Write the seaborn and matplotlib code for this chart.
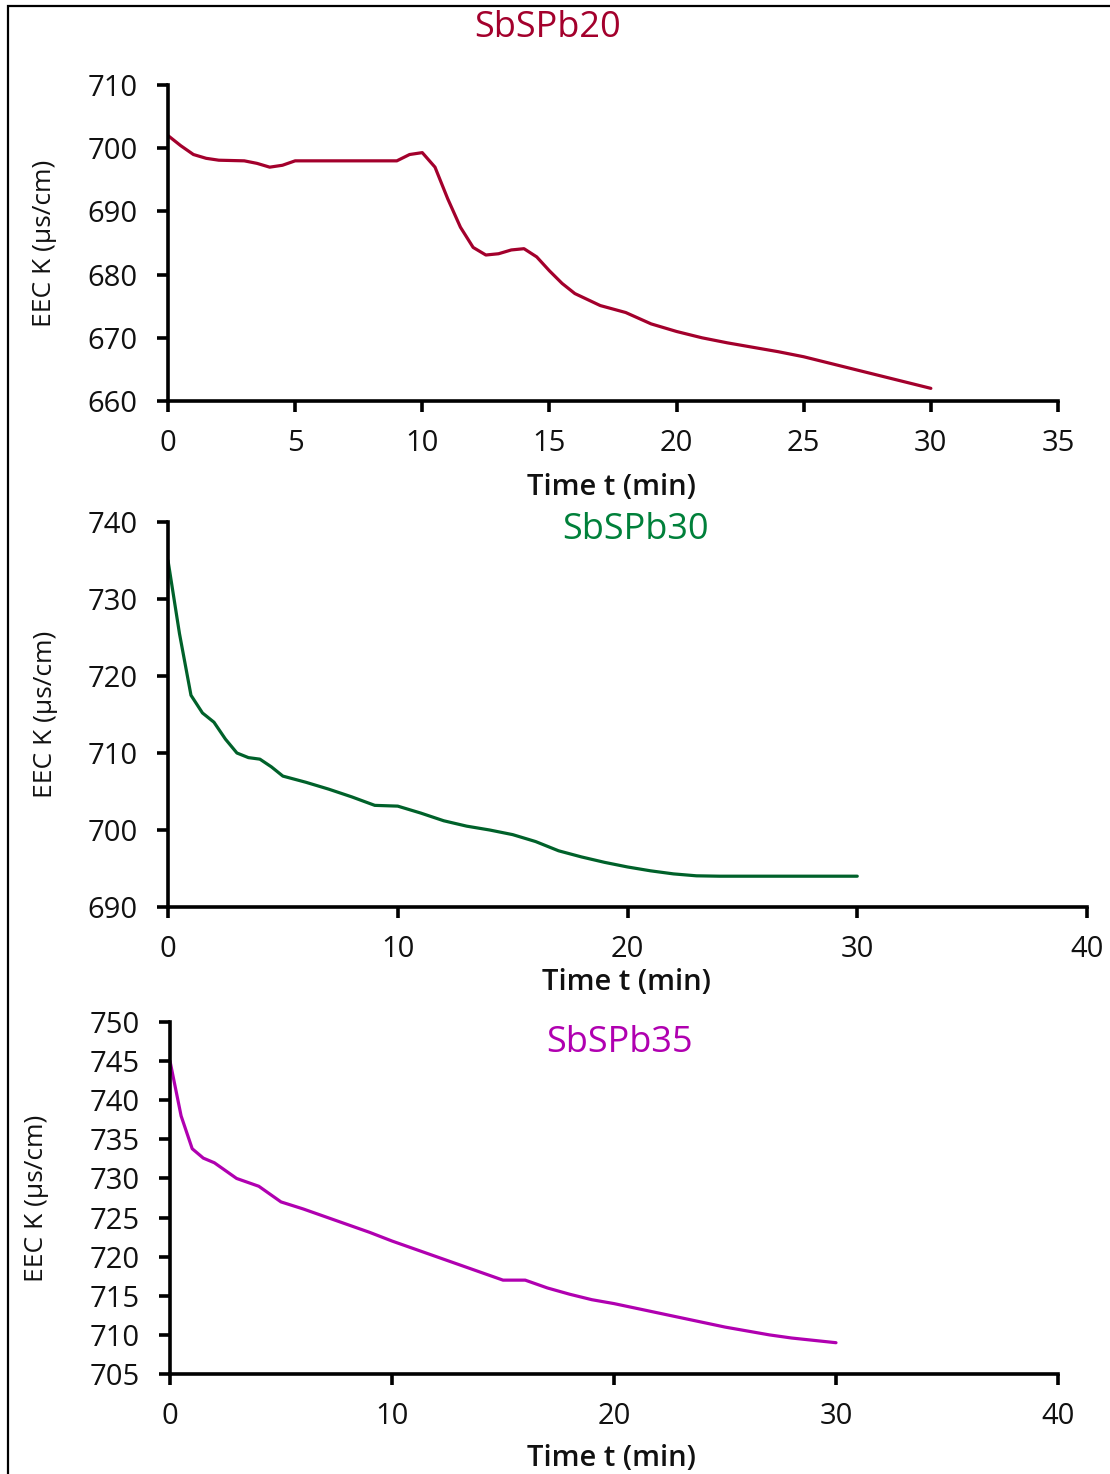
import numpy as np
import pandas as pd
import matplotlib
matplotlib.use("Agg")
import matplotlib.pyplot as plt
from matplotlib.patches import Rectangle
import seaborn as sns

# ---------------- data ----------------
t20 = [0, 0.5, 1, 1.5, 2, 3, 3.5, 4, 4.5, 5, 6, 7, 8, 9, 9.5, 10, 10.5, 11, 11.5, 12, 12.5,
       13, 13.5, 14, 14.5, 15, 15.5, 16, 17, 18, 19, 20, 21, 22, 23, 24, 25, 26, 27, 28, 29, 30]
k20 = [702, 700.4, 699, 698.4, 698.1, 698, 697.6, 697, 697.3, 698, 698, 698, 698, 698, 699,
       699.3, 697, 692, 687.5, 684.3, 683.1, 683.3, 683.9, 684.1, 682.8, 680.6, 678.6, 677,
       675.1, 674, 672.2, 671, 670, 669.2, 668.5, 667.8, 667, 666, 665, 664, 663, 662]

t30 = [0, 0.5, 1, 1.5, 2, 2.5, 3, 3.5, 4, 4.5, 5, 6, 7, 8, 9, 10, 11, 12, 13, 14, 15, 16,
       17, 18, 19, 20, 21, 22, 23, 24, 25, 26, 27, 28, 29, 30]
k30 = [735, 725.5, 717.5, 715.2, 714, 711.8, 710, 709.4, 709.2, 708.2, 707, 706.2, 705.3,
       704.3, 703.2, 703.1, 702.2, 701.2, 700.5, 700, 699.4, 698.5, 697.3, 696.5, 695.8,
       695.2, 694.7, 694.3, 694.05, 694, 694, 694, 694, 694, 694, 694]

t35 = [0, 0.5, 1, 1.5, 2, 2.5, 3, 3.5, 4, 4.5, 5, 6, 7, 8, 9, 10, 11, 12, 13, 14, 15, 16,
       17, 18, 19, 20, 21, 22, 23, 24, 25, 26, 27, 28, 29, 30]
k35 = [745, 738, 733.8, 732.6, 732, 731, 730, 729.5, 729, 728, 727, 726.1, 725.1, 724.1,
       723.1, 722, 721, 720, 719, 718, 717, 717, 716, 715.2, 714.5, 714, 713.4, 712.8,
       712.2, 711.6, 711, 710.5, 710, 709.6, 709.3, 709]

titles = ["SbSPb20", "SbSPb30", "SbSPb35"]
xticks = [[0, 5, 10, 15, 20, 25, 30, 35], [0, 10, 20, 30, 40], [0, 10, 20, 30, 40]]
yticks = [[660, 670, 680, 690, 700, 710], [690, 700, 710, 720, 730, 740],
          [705, 710, 715, 720, 725, 730, 735, 740, 745, 750]]
xlabel = "Time t (min)"
ylabel = "EEC K (µs/cm)"

# ---------------- style ----------------
sns.set_theme(style="ticks")
plt.rcParams['font.family'] = ['Open Sans', 'DejaVu Sans']

W, H = 1110, 1474
fig = plt.figure(figsize=(W / 100, H / 100), dpi=100)

line_colors = ["#A3002C", "#00612A", "#B000B0"]
title_colors = ["#A3002C", "#00803A", "#B000B0"]

# axes boxes in pixels: left, right, top, bottom
boxes = [(168, 1058, 85, 401), (168, 1087, 522, 907), (170, 1058, 1022, 1374)]
# title centers, xlabel centers, ylabel x-centers (pixels)
title_pos = [(548, 28), (636, 530), (619, 1043)]
xlabel_pos = [(611, 487), (626, 983), (611, 1458)]
ylabel_x = [45, 45, 37]

series = [(t20, k20), (t30, k30), (t35, k35)]

for i in range(3):
    l, r, t, b = boxes[i]
    ax = fig.add_axes([l / W, 1 - b / H, (r - l) / W, (b - t) / H])
    tt, kk = series[i]
    df = pd.DataFrame({"t": tt, "k": kk})
    sns.lineplot(data=df, x="t", y="k", ax=ax, color=line_colors[i], linewidth=2.3)
    for ln in ax.lines:
        ln.set_solid_joinstyle("round")
        ln.set_solid_capstyle("round")
    ax.set_xlim(xticks[i][0], xticks[i][-1])
    ax.set_ylim(yticks[i][0], yticks[i][-1])
    ax.set_xticks(xticks[i])
    ax.set_yticks(yticks[i])
    for s in ["top", "right"]:
        ax.spines[s].set_visible(False)
    for s in ["left", "bottom"]:
        ax.spines[s].set_linewidth(2.6)
        ax.spines[s].set_color("black")
    ax.tick_params(axis="both", direction="out", length=8, width=2.6, colors="black",
                   labelsize=21)
    ax.tick_params(axis="y", pad=14)
    ax.tick_params(axis="x", pad=12)
    for lab in ax.get_xticklabels() + ax.get_yticklabels():
        lab.set_fontweight("medium")
        lab.set_color("#111111")
    ax.set_facecolor("white")
    ax.set_xlabel(xlabel, fontsize=21, fontweight="semibold", color="#111111")
    ax.set_ylabel(ylabel, fontsize=19, color="#111111")
    # label positions in axes coords
    xl, yl = xlabel_pos[i]
    ax.xaxis.set_label_coords((xl - l) / (r - l), (b - yl) / (b - t))
    ax.xaxis.label.set_va("center")
    ax.yaxis.set_label_coords((ylabel_x[i] - l) / (r - l), 0.5)
    ax.yaxis.label.set_va("center")
    tx, ty = title_pos[i]
    ax.text((tx - l) / (r - l), (b - ty) / (b - t), titles[i], transform=ax.transAxes,
            ha="center", va="center", fontsize=26, color=title_colors[i], clip_on=False)

fig.patches.append(Rectangle((8 / W, -0.02), 1.1, (H - 6) / H + 0.02, transform=fig.transFigure,
                             fill=False, edgecolor="black", linewidth=1.6, figure=fig))

fig.savefig("out.png", dpi=100, facecolor="white")
